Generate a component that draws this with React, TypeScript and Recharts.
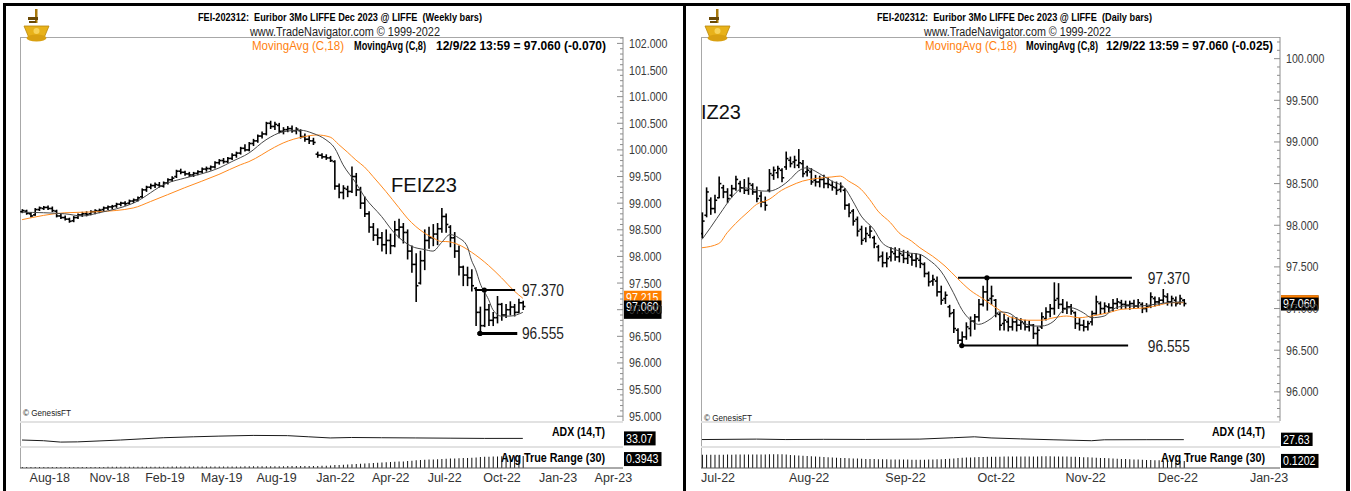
import React from 'react';
import { ComposedChart, Bar, Line, XAxis, YAxis, ReferenceLine, ReferenceDot } from 'recharts';

const FONT = "'Liberation Sans Narrow', 'Arial Narrow', 'Liberation Sans', Arial, sans-serif";
const ORANGE = '#ff8a1e';
const MA8_COLOR = '#484848';
const AXIS_W = 50;

// ---------- weekly (left) ----------
const W_OPEN = [
  98.84, 98.85, 98.80, 98.78, 98.88, 98.90, 98.92, 98.90, 98.85, 98.76,
  98.73, 98.70, 98.67, 98.73, 98.78, 98.80, 98.80, 98.84, 98.85, 98.88,
  98.91, 98.93, 98.95, 98.98, 99.00, 99.00, 99.04, 99.06, 99.12, 99.25,
  99.30, 99.33, 99.34, 99.32, 99.38, 99.44, 99.50, 99.60, 99.58, 99.55,
  99.53, 99.56, 99.59, 99.64, 99.65, 99.68, 99.76, 99.80, 99.78, 99.84,
  99.90, 99.94, 100.03, 100.00, 100.12, 100.17, 100.26, 100.30, 100.50, 100.44,
  100.46, 100.35, 100.38, 100.40, 100.36, 100.36, 100.25, 100.20, 100.17, 99.92,
  99.90, 99.87, 99.85, 99.78, 99.32, 99.20, 99.26, 99.22, 99.50, 99.25,
  99.00, 98.80, 98.55, 98.40, 98.35, 98.22, 98.30, 98.20, 98.50, 98.55,
  98.45, 98.10, 97.85, 97.50, 97.92, 98.30, 98.35, 98.42, 98.52, 98.75,
  98.55, 98.35, 98.10, 97.80, 97.65, 97.60, 97.40, 96.95, 96.70, 97.00,
  96.80, 96.85, 97.10, 96.90, 97.00, 97.05, 96.95, 97.13,
];
const W_HIGH = [
  98.88, 98.87, 98.82, 98.90, 98.93, 98.94, 98.95, 98.93, 98.87, 98.79,
  98.76, 98.72, 98.75, 98.80, 98.83, 98.84, 98.86, 98.88, 98.89, 98.93,
  98.95, 98.96, 99.00, 99.02, 99.03, 99.06, 99.08, 99.12, 99.27, 99.32,
  99.36, 99.38, 99.39, 99.40, 99.46, 99.50, 99.62, 99.64, 99.60, 99.58,
  99.58, 99.61, 99.66, 99.68, 99.70, 99.78, 99.82, 99.84, 99.86, 99.93,
  99.96, 100.05, 100.10, 100.14, 100.20, 100.28, 100.34, 100.52, 100.54, 100.52,
  100.50, 100.42, 100.44, 100.45, 100.42, 100.38, 100.30, 100.26, 100.22, 99.96,
  99.93, 99.91, 99.88, 99.80, 99.36, 99.33, 99.32, 99.68, 99.56, 99.30,
  99.12, 98.84, 98.62, 98.52, 98.45, 98.50, 98.42, 98.66, 98.70, 98.62,
  98.50, 98.20, 98.05, 98.10, 98.50, 98.55, 98.60, 98.62, 98.90, 98.80,
  98.58, 98.45, 98.20, 97.82, 97.80, 97.75, 97.42, 97.05, 97.37, 97.10,
  96.95, 97.25, 97.12, 97.10, 97.15, 97.10, 97.20, 97.16,
];
const W_LOW = [
  98.82, 98.79, 98.74, 98.77, 98.86, 98.88, 98.88, 98.84, 98.74, 98.71,
  98.68, 98.64, 98.65, 98.71, 98.75, 98.76, 98.78, 98.80, 98.82, 98.86,
  98.88, 98.89, 98.92, 98.95, 98.96, 98.98, 99.01, 99.04, 99.10, 99.22,
  99.27, 99.29, 99.30, 99.30, 99.36, 99.41, 99.48, 99.55, 99.52, 99.50,
  99.50, 99.53, 99.57, 99.60, 99.62, 99.66, 99.73, 99.75, 99.76, 99.82,
  99.86, 99.92, 99.98, 99.98, 100.08, 100.14, 100.22, 100.28, 100.40, 100.38,
  100.32, 100.30, 100.34, 100.33, 100.30, 100.22, 100.16, 100.12, 100.10, 99.86,
  99.84, 99.82, 99.78, 99.26, 99.10, 99.08, 99.12, 99.20, 99.14, 98.90,
  98.75, 98.45, 98.30, 98.22, 98.10, 98.05, 98.05, 98.18, 98.35, 98.25,
  97.95, 97.70, 97.15, 97.48, 97.75, 98.15, 98.20, 98.22, 98.45, 98.45,
  98.18, 97.98, 97.65, 97.45, 97.45, 97.35, 96.70, 96.555, 96.68, 96.70,
  96.70, 96.75, 96.80, 96.85, 96.90, 96.88, 96.94, 97.00,
];
const W_CLOSE = [
  98.86, 98.81, 98.76, 98.88, 98.91, 98.92, 98.90, 98.86, 98.76, 98.73,
  98.70, 98.66, 98.73, 98.78, 98.80, 98.79, 98.84, 98.86, 98.87, 98.91,
  98.93, 98.94, 98.98, 99.00, 98.99, 99.04, 99.06, 99.10, 99.25, 99.30,
  99.33, 99.35, 99.32, 99.38, 99.44, 99.47, 99.60, 99.58, 99.55, 99.53,
  99.56, 99.59, 99.64, 99.65, 99.68, 99.76, 99.80, 99.78, 99.84, 99.90,
  99.94, 100.03, 100.00, 100.12, 100.17, 100.26, 100.30, 100.50, 100.44, 100.48,
  100.35, 100.38, 100.40, 100.36, 100.39, 100.25, 100.20, 100.17, 100.14, 99.90,
  99.87, 99.85, 99.80, 99.32, 99.20, 99.28, 99.22, 99.50, 99.25, 99.00,
  98.80, 98.55, 98.40, 98.35, 98.22, 98.30, 98.20, 98.50, 98.55, 98.45,
  98.10, 97.85, 97.45, 97.92, 98.30, 98.35, 98.42, 98.52, 98.75, 98.60,
  98.35, 98.10, 97.80, 97.65, 97.60, 97.45, 96.95, 96.70, 97.00, 96.80,
  96.85, 97.10, 96.90, 97.00, 97.05, 96.95, 97.13, 97.06,
];
const W_ATR = [
  0.030, 0.030, 0.031, 0.031, 0.032, 0.032, 0.032, 0.033, 0.033, 0.034,
  0.034, 0.035, 0.035, 0.035, 0.036, 0.036, 0.036, 0.037, 0.037, 0.037,
  0.038, 0.038, 0.038, 0.039, 0.039, 0.040, 0.040, 0.041, 0.042, 0.043,
  0.043, 0.044, 0.044, 0.045, 0.045, 0.046, 0.047, 0.047, 0.047, 0.048,
  0.048, 0.048, 0.049, 0.049, 0.050, 0.050, 0.051, 0.051, 0.052, 0.052,
  0.053, 0.053, 0.054, 0.055, 0.055, 0.056, 0.057, 0.058, 0.060, 0.060,
  0.061, 0.061, 0.062, 0.062, 0.063, 0.063, 0.064, 0.064, 0.065,
  0.070, 0.074, 0.078, 0.082, 0.095, 0.102, 0.108, 0.112, 0.125, 0.132,
  0.140, 0.148, 0.158, 0.166, 0.172, 0.180, 0.188, 0.195, 0.205, 0.212,
  0.218, 0.228, 0.236, 0.255, 0.265, 0.272, 0.278, 0.284, 0.290, 0.298,
  0.304, 0.310, 0.316, 0.322, 0.328, 0.334, 0.340, 0.350, 0.362, 0.370,
  0.374, 0.378, 0.382, 0.384, 0.386, 0.388, 0.390, 0.392, 0.3943,
];
const W_MA18_AT = [0, 10, 18, 26, 30, 38, 46, 51, 53, 59, 61, 66, 69, 72, 74, 76, 78, 80, 82, 85, 88, 90, 94, 96, 98, 99, 102, 105, 109, 112, 115, 117];
const W_MA18 = [98.69, 98.82, 98.84, 98.91, 99.03, 99.29, 99.54, 99.72, 99.78, 100.05, 100.13, 100.25, 100.28, 100.24, 100.10, 99.96, 99.81, 99.68, 99.50, 99.22, 98.92, 98.72, 98.44, 98.35, 98.28, 98.28, 98.22, 98.08, 97.83, 97.60, 97.35, 97.215];
const W_MA8_AT = [0, 10, 14, 18, 26, 34, 38, 46, 49, 53, 57, 61, 65, 68, 71, 73, 75, 78, 80, 84, 87, 91, 94, 96, 98, 100, 102, 104, 105, 106, 107, 109, 110, 112, 114, 117];
const W_MA8 = [98.83, 98.80, 98.76, 98.82, 99.00, 99.38, 99.47, 99.66, 99.78, 99.94, 100.19, 100.34, 100.37, 100.31, 100.19, 100.04, 99.72, 99.38, 99.12, 98.75, 98.44, 98.19, 98.13, 98.10, 98.26, 98.41, 98.35, 98.19, 97.93, 97.75, 97.50, 97.19, 97.00, 96.88, 96.88, 96.95];
const W_ADX_AT = [0, 5, 9, 13, 18, 23, 28, 33, 40, 46, 54, 62, 67, 72, 77, 84, 92, 100, 108, 117];
const W_ADX = [26, 23, 17, 18, 22, 26, 31, 36, 40, 43, 46, 45, 40, 35, 37, 36, 35, 34, 33, 33.07];
const W_XTICKS = [2, 16, 29, 42, 55, 69, 82, 95, 108, 121, 134];
const W_XLABELS = ['Aug-18', 'Nov-18', 'Feb-19', 'May-19', 'Aug-19', 'Jan-22', 'Apr-22', 'Jul-22', 'Oct-22', 'Jan-23', 'Apr-23'];
const W_MAJORS = [95, 95.5, 96, 96.5, 97, 97.5, 98, 98.5, 99, 99.5, 100, 100.5, 101, 101.5, 102];
const W_LEVELS = [97.37, 96.555];
const W_LEVEL_FROM = [105.8, 106.4];
const W_LEVEL_TO = [115.2, 115.7];
const W_LEVEL_DOT = [108, 107];

// ---------- daily (right) ----------
const D_OPEN = [
  97.90, 98.12, 98.30, 98.20, 98.33, 98.45, 98.40, 98.36, 98.44, 98.50,
  98.45, 98.42, 98.48, 98.40, 98.35, 98.28, 98.42, 98.60, 98.63, 98.66,
  98.70, 98.78, 98.76, 98.72, 98.74, 98.64, 98.64, 98.54, 98.52, 98.55,
  98.50, 98.48, 98.45, 98.43, 98.42, 98.24, 98.17, 98.07, 97.95, 97.84,
  97.88, 97.85, 97.74, 97.63, 97.55, 97.62, 97.66, 97.62, 97.64, 97.60,
  97.62, 97.58, 97.58, 97.53, 97.42, 97.33, 97.33, 97.20, 97.12, 97.02,
  96.95, 96.74, 96.62, 96.66, 96.76, 96.85, 96.90, 97.05, 97.20, 97.12,
  97.10, 96.93, 96.82, 96.84, 96.78, 96.84, 96.80, 96.82, 96.78, 96.80,
  96.70, 96.78, 96.88, 96.96, 97.00, 97.12, 97.05, 97.00, 97.02, 96.95,
  96.82, 96.80, 96.78, 96.84, 96.94, 97.06, 97.00, 97.02, 97.01, 97.06,
  97.07, 97.05, 97.04, 97.06, 97.03, 97.05, 97.00, 97.03, 97.12, 97.08,
  97.10, 97.14, 97.08, 97.10, 97.07, 97.10,
];
const D_HIGH = [
  98.15, 98.45, 98.33, 98.36, 98.58, 98.48, 98.44, 98.48, 98.59, 98.53,
  98.55, 98.57, 98.50, 98.46, 98.40, 98.34, 98.67, 98.70, 98.71, 98.68,
  98.88, 98.82, 98.83, 98.91, 98.78, 98.71, 98.68, 98.60, 98.59, 98.60,
  98.57, 98.53, 98.52, 98.51, 98.44, 98.26, 98.19, 98.10, 97.99, 97.97,
  97.99, 97.87, 97.76, 97.68, 97.67, 97.73, 97.73, 97.72, 97.70, 97.69,
  97.66, 97.66, 97.65, 97.55, 97.44, 97.40, 97.38, 97.27, 97.20, 97.04,
  96.99, 96.76, 96.72, 96.83, 96.90, 96.93, 97.11, 97.27, 97.37, 97.27,
  97.11, 96.95, 96.93, 96.89, 96.90, 96.89, 96.88, 96.86, 96.85, 96.81,
  96.78, 96.95, 97.01, 97.05, 97.31, 97.30, 97.11, 97.08, 97.05, 96.96,
  96.88, 96.86, 96.85, 96.97, 97.15, 97.08, 97.07, 97.06, 97.11, 97.12,
  97.10, 97.09, 97.09, 97.10, 97.11, 97.07, 97.06, 97.19, 97.14, 97.13,
  97.23, 97.18, 97.15, 97.14, 97.16, 97.11,
];
const D_LOW = [
  97.85, 98.10, 98.13, 98.15, 98.33, 98.33, 98.27, 98.34, 98.42, 98.40,
  98.38, 98.37, 98.37, 98.28, 98.22, 98.18, 98.40, 98.55, 98.57, 98.52,
  98.67, 98.70, 98.69, 98.69, 98.58, 98.59, 98.49, 98.47, 98.46, 98.45,
  98.45, 98.42, 98.37, 98.40, 98.19, 98.10, 98.00, 97.87, 97.77, 97.80,
  97.85, 97.73, 97.57, 97.50, 97.50, 97.57, 97.58, 97.56, 97.55, 97.54,
  97.52, 97.50, 97.49, 97.38, 97.27, 97.28, 97.15, 97.05, 97.06, 96.90,
  96.71, 96.58, 96.555, 96.63, 96.67, 96.75, 96.85, 97.03, 96.98, 97.05,
  96.90, 96.74, 96.74, 96.73, 96.74, 96.73, 96.75, 96.74, 96.73, 96.64,
  96.555, 96.76, 96.86, 96.90, 96.93, 97.00, 96.95, 96.94, 96.93, 96.76,
  96.74, 96.73, 96.74, 96.80, 96.93, 96.93, 96.94, 96.96, 96.97, 97.00,
  97.00, 97.00, 96.99, 97.00, 97.01, 96.95, 96.96, 97.01, 97.03, 97.04,
  97.07, 97.04, 97.03, 97.03, 97.05, 97.03,
];
const D_CLOSE = [
  98.05, 98.40, 98.20, 98.30, 98.50, 98.40, 98.32, 98.44, 98.55, 98.45,
  98.42, 98.50, 98.40, 98.32, 98.28, 98.24, 98.62, 98.66, 98.68, 98.57,
  98.80, 98.74, 98.78, 98.75, 98.62, 98.66, 98.52, 98.52, 98.55, 98.50,
  98.49, 98.46, 98.42, 98.46, 98.24, 98.15, 98.05, 97.93, 97.82, 97.90,
  97.93, 97.78, 97.62, 97.55, 97.60, 97.68, 97.62, 97.66, 97.60, 97.64,
  97.58, 97.60, 97.54, 97.42, 97.32, 97.35, 97.20, 97.10, 97.16, 96.94,
  96.76, 96.62, 96.66, 96.78, 96.85, 96.90, 97.05, 97.20, 97.10, 97.15,
  96.94, 96.80, 96.86, 96.78, 96.84, 96.80, 96.84, 96.78, 96.80, 96.70,
  96.74, 96.90, 96.96, 97.00, 97.10, 97.05, 97.00, 97.02, 96.97, 96.82,
  96.80, 96.78, 96.82, 96.94, 97.08, 97.00, 97.03, 97.01, 97.06, 97.08,
  97.05, 97.04, 97.06, 97.03, 97.07, 97.00, 97.02, 97.14, 97.08, 97.10,
  97.15, 97.08, 97.12, 97.06, 97.12, 97.06,
];
const D_ATR = [
  0.225, 0.226, 0.226, 0.225, 0.227, 0.227, 0.228, 0.227, 0.228, 0.228,
  0.229, 0.229, 0.230, 0.230, 0.229, 0.230, 0.232, 0.232, 0.233, 0.232, 0.231,
  0.222, 0.218, 0.214, 0.210, 0.206, 0.200, 0.195, 0.190, 0.186, 0.182,
  0.178, 0.175, 0.171, 0.168, 0.165, 0.162, 0.160, 0.157, 0.155, 0.153, 0.152, 0.150, 0.149,
  0.148, 0.146, 0.145, 0.144, 0.143, 0.143, 0.142, 0.142, 0.141, 0.142, 0.143, 0.145, 0.147, 0.150, 0.153, 0.157,
  0.162, 0.168, 0.173, 0.177, 0.180, 0.183, 0.186, 0.188, 0.190, 0.192,
  0.193, 0.193, 0.194, 0.194, 0.195, 0.195, 0.196, 0.196, 0.197, 0.197,
  0.197, 0.198, 0.198, 0.198, 0.197, 0.196, 0.195, 0.194, 0.192, 0.190,
  0.187, 0.184, 0.181, 0.178, 0.175, 0.172, 0.168, 0.165, 0.162, 0.158,
  0.155, 0.152, 0.149, 0.146, 0.143, 0.140,
  0.137, 0.135, 0.132, 0.130, 0.128, 0.126, 0.125, 0.123, 0.122, 0.1202,
];
const D_MA18_AT = [0, 4, 6, 8, 11, 13, 16, 19, 21, 24, 27, 31, 33, 35, 38, 40, 42, 45, 47, 50, 52, 55, 58, 61, 64, 67, 71, 74, 78, 81, 84, 87, 90, 93, 97, 100, 103, 106, 109, 112, 115];
const D_MA18 = [97.73, 97.78, 97.91, 98.02, 98.16, 98.25, 98.31, 98.42, 98.47, 98.53, 98.56, 98.58, 98.59, 98.53, 98.43, 98.31, 98.17, 98.03, 97.91, 97.81, 97.73, 97.63, 97.51, 97.36, 97.22, 97.12, 96.98, 96.89, 96.86, 96.86, 96.89, 96.91, 96.89, 96.91, 96.95, 96.99, 97.00, 97.01, 97.04, 97.07, 97.07];
const D_MA8_AT = [0, 2, 5, 7, 10, 12, 15, 16, 19, 21, 23, 25, 27, 29, 31, 34, 36, 38, 41, 43, 46, 49, 52, 54, 57, 60, 62, 65, 66, 69, 71, 73, 76, 79, 81, 84, 86, 88, 91, 93, 96, 98, 101, 104, 108, 111, 115];
const D_MA8 = [97.83, 97.97, 98.19, 98.33, 98.45, 98.43, 98.41, 98.41, 98.47, 98.55, 98.65, 98.69, 98.65, 98.59, 98.53, 98.45, 98.29, 98.11, 97.95, 97.79, 97.71, 97.67, 97.65, 97.59, 97.45, 97.19, 96.99, 96.83, 96.81, 96.88, 96.96, 96.95, 96.85, 96.79, 96.79, 96.85, 96.97, 97.01, 96.95, 96.89, 96.91, 96.99, 97.03, 97.03, 97.05, 97.07, 97.08];
const D_ADX_AT = [0, 13, 20, 29, 39, 52, 60, 65, 69, 76, 84, 93, 96, 106, 115];
const D_ADX = [28, 30, 28, 29, 28.5, 30, 36, 40, 35, 31, 27, 23, 27, 27.5, 27.63];
const D_XTICKS = [0, 21, 44, 66, 87, 109, 131];
const D_XLABELS = ['Jul-22', 'Aug-22', 'Sep-22', 'Oct-22', 'Nov-22', 'Dec-22', 'Jan-23'];
const D_MAJORS = [96, 96.5, 97, 97.5, 98, 98.5, 99, 99.5, 100];
const D_LEVELS = [97.37, 96.555];
const D_LEVEL_FROM = [61.1, 61.6];
const D_LEVEL_TO = [102.6, 101.7];
const D_LEVEL_DOT = [68, 62];

// ---------- helpers ----------
const toRows = (o: number[], h: number[], l: number[], c: number[], atr: number[]) =>
  c.map((close, i) => ({ i, range: [l[i], h[i]], open: o[i], close, atr: atr[i] }));
const toPts = (at: number[], v: number[]) => at.map((i, k) => ({ i, v: v[k] }));
const last = (a: number[]) => a[a.length - 1];
const numW = (s: string) => (s.length - 1) * 5.9 + 3;

const minorTicks = (lo: number, hi: number) => {
  const out: number[] = [];
  for (let k = Math.ceil(lo * 10); k <= Math.floor(hi * 10); k++) out.push(k / 10);
  return out;
};

const OhlcShape = (props: any) => {
  const { x, y, width, height, payload } = props;
  if (x == null || !payload) return null;
  const top = Math.min(y, y + height);
  const bot = Math.max(y, y + height);
  const [lo, hi] = payload.range;
  const py = (v: number) => (hi === lo ? top : top + ((hi - v) / (hi - lo)) * (bot - top));
  const cx = x + width / 2;
  return (
    <g stroke="#000" strokeWidth={1.6}>
      <line x1={cx} x2={cx} y1={top - 0.4} y2={bot + 0.4} />
      <line x1={cx - 2.2} x2={cx} y1={py(payload.open)} y2={py(payload.open)} />
      <line x1={cx} x2={cx + 2.2} y1={py(payload.close)} y2={py(payload.close)} />
    </g>
  );
};

const PriceTick = (props: any) => {
  const { x, y, payload, majors } = props;
  const v = payload.value;
  const major = majors.some((m: number) => Math.abs(m - v) < 1e-6);
  const label = v.toFixed(3);
  return (
    <g>
      <line x1={x - (major ? 6 : 3)} x2={x} y1={y} y2={y} stroke="#8c8c8c" />
      {major && (
        <text x={x + 6} y={y + 4.5} fontSize={12.5} fill="#3a3a3a" fontFamily={FONT}
          textLength={numW(label)} lengthAdjust="spacingAndGlyphs">{label}</text>
      )}
    </g>
  );
};

// value flag on the axis; text is optional (the MA8 flag is hidden behind the others)
const ValueBox = ({ cx, cy, text, fill, dy = 0, h = 13, showText = true }: any) => {
  const w = numW(text);
  return (
    <g>
      <rect x={cx + 1} y={cy - h / 2 + dy} width={w + 5} height={h} fill={fill} />
      {showText && (
        <text x={cx + 3} y={cy + 4.4 + dy} fontSize={12.5} fill="#fff" fontFamily={FONT}
          textLength={w} lengthAdjust="spacingAndGlyphs">{text}</text>
      )}
    </g>
  );
};

type PanelProps = {
  left: number; plotW: number; xDomain: [number, number]; yDomain: [number, number];
  majors: number[]; rows: any[]; ma18: any[]; ma8: any[]; adx: any[];
  atrMax: number; atrDy: number; xTicks: number[]; xLabels: string[];
  levels: number[]; levelFrom: number[]; levelTo: number[]; levelDot: number[]; levelThick: number[]; labelAt: number;
  closeLast: number; ma18Last: number; ma8Last: number; adxLast: number; atrLast: number;
};

function Panel(p: PanelProps) {
  const W = p.plotW + AXIS_W;
  const minors = minorTicks(p.yDomain[0], p.yDomain[1]);
  const xEnd = p.xDomain[1];
  return (
    <>
      <div style={{ position: 'absolute', left: p.left, top: 37 }}>
        <ComposedChart width={W} height={392} data={p.rows} margin={{ top: 0, right: 0, bottom: 8, left: 0 }}>
          <XAxis dataKey="i" type="number" domain={p.xDomain} allowDataOverflow hide />
          <YAxis orientation="right" width={AXIS_W} domain={p.yDomain} allowDataOverflow ticks={minors}
            interval={0} tickLine={false} tickSize={0} tickMargin={0} axisLine={{ stroke: '#8c8c8c' }}
            tick={(t: any) => <PriceTick {...t} majors={p.majors} />} />
          <Bar dataKey="range" barSize={1} shape={(s: any) => <OhlcShape {...s} />} isAnimationActive={false} />
          <Line data={p.ma18} dataKey="v" type="monotone" stroke={ORANGE} strokeWidth={1} dot={false} isAnimationActive={false} />
          <Line data={p.ma8} dataKey="v" type="monotone" stroke={MA8_COLOR} strokeWidth={1} dot={false} isAnimationActive={false} />
          {p.levels.map((v, k) => (
            <ReferenceLine key={'l' + k} segment={[{ x: p.levelFrom[k], y: v }, { x: p.levelTo[k], y: v }]}
              stroke="#000" strokeWidth={p.levelThick[k]} ifOverflow="visible" />
          ))}
          {p.levels.map((v, k) => (
            <ReferenceDot key={'d' + k} x={p.levelDot[k]} y={v} r={2.6} fill="#000" stroke="none" ifOverflow="visible" />
          ))}
          {p.levels.map((v, k) => (
            <ReferenceDot key={'t' + k} x={p.labelAt} y={v} r={0} ifOverflow="visible"
              shape={(s: any) => (
                <text x={s.cx} y={s.cy + 6} fontSize={17} fill="#1e1e1e" fontFamily={FONT}
                  textLength={42} lengthAdjust="spacingAndGlyphs">{v.toFixed(3)}</text>
              )} />
          ))}
          <ReferenceDot x={xEnd} y={p.ma8Last} r={0} ifOverflow="visible"
            shape={(s: any) => <ValueBox cx={s.cx} cy={s.cy} text={p.ma8Last.toFixed(3)} fill="#000" showText={false} />} />
          <ReferenceDot x={xEnd} y={p.ma18Last} r={0} ifOverflow="visible"
            shape={(s: any) => <ValueBox cx={s.cx} cy={s.cy} h={14} dy={-0.5} text={p.ma18Last.toFixed(3)} fill="#ff8000" />} />
          <ReferenceDot x={xEnd} y={p.closeLast} r={0} ifOverflow="visible"
            shape={(s: any) => <ValueBox cx={s.cx} cy={s.cy} dy={0.5} text={p.closeLast.toFixed(3)} fill="#000" />} />
        </ComposedChart>
      </div>
      <div style={{ position: 'absolute', left: p.left, top: 423 }}>
        <ComposedChart width={W} height={23} data={p.rows} margin={{ top: 0, right: AXIS_W, bottom: 0, left: 0 }}>
          <XAxis dataKey="i" type="number" domain={p.xDomain} allowDataOverflow hide />
          <YAxis hide domain={[0, 100]} allowDataOverflow />
          <Line data={p.adx} dataKey="v" type="linear" stroke="#1a1a1a" strokeWidth={1} dot={false} isAnimationActive={false} />
          <ReferenceDot x={xEnd} y={p.adxLast} r={0} ifOverflow="visible"
            shape={(s: any) => <ValueBox cx={s.cx} cy={s.cy} h={14} text={p.adxLast.toFixed(2)} fill="#000" />} />
        </ComposedChart>
      </div>
      <div style={{ position: 'absolute', left: p.left, top: 448 }}>
        <ComposedChart width={W} height={40} data={p.rows} margin={{ top: 0, right: AXIS_W, bottom: 0, left: 0 }}>
          <XAxis dataKey="i" type="number" domain={p.xDomain} allowDataOverflow ticks={p.xTicks} interval={0}
            tickLine={false} tickSize={0} tickMargin={0} height={20} axisLine={{ stroke: '#555' }}
            tick={(t: any) => (
              <text x={t.x - 1} y={t.y + 14} fontSize={12.5} fill="#333" fontFamily={FONT}>
                {p.xLabels[p.xTicks.indexOf(t.payload.value)]}
              </text>
            )} />
          <YAxis hide domain={[0, p.atrMax]} allowDataOverflow />
          <Bar dataKey="atr" barSize={1} fill="#111" isAnimationActive={false} />
          <ReferenceDot x={xEnd} y={p.atrLast} r={0} ifOverflow="visible"
            shape={(s: any) => <ValueBox cx={s.cx} cy={s.cy} h={14} dy={p.atrDy} text={p.atrLast.toFixed(4)} fill="#000" />} />
        </ComposedChart>
      </div>
    </>
  );
}

const T = ({ x, y, w, size, bold, fill = '#000', anchor = 'start', font = FONT, children }: any) => (
  <text x={x} y={y} fontSize={size} fontWeight={bold ? 700 : 400} fill={fill} textAnchor={anchor}
    fontFamily={font} textLength={w} lengthAdjust="spacingAndGlyphs" style={{ whiteSpace: 'pre' }}>{children}</text>
);

const Logo = ({ x, y }: { x: number; y: number }) => (
  <g transform={`translate(${x},${y})`}>
    <rect x={13} y={0} width={2.5} height={14} fill="#a8780a" />
    <rect x={6} y={8} width={10} height={3} fill="#6b4a06" />
    <rect x={7} y={12} width={7} height={2} fill="#6b4a06" />
    <path d="M2 17 L27 17 L22 29 L7 29 Z" fill="#e8b21a" stroke="#b8860b" strokeWidth={0.8} />
    <ellipse cx={14.5} cy={29} rx={10} ry={3.5} fill="#d9a011" />
    <circle cx={14.5} cy={22} r={3} fill="#f7d35a" />
  </g>
);

type Frame = {
  x0: number; x1: number; title: string; titleX: number; titleW: number; urlX: number; urlW: number;
  ma18X: number; ma8X: number; dateX: number; dateW: number; date: string;
  big: string; bigX: number; bigY: number; bigW: number; gfY: number; labelEnd: number;
};

const PanelFrame = ({ f }: { f: Frame }) => (
  <g>
    <line x1={f.x0} x2={f.x1} y1={37.5} y2={37.5} stroke="#a8a8a8" />
    <line x1={f.x0 + 0.5} x2={f.x0 + 0.5} y1={37} y2={468} stroke="#a8a8a8" />
    <rect x={f.x0} y={421} width={f.x1 - f.x0} height={2} fill="#e2e2e2" />
    <rect x={f.x0} y={446} width={f.x1 - f.x0} height={2} fill="#e2e2e2" />
    <Logo x={f.x0 + 2} y={9} />
    <T x={f.titleX} y={20.5} w={f.titleW} size={10.5} bold>{f.title}</T>
    <T x={f.urlX} y={35.5} w={f.urlW} size={12.5} fill="#222">www.TradeNavigator.com © 1999-2022</T>
    <T x={f.ma18X} y={49.5} w={92} size={12.5} fill="#ff7f0e">MovingAvg (C,18)</T>
    <T x={f.ma8X} y={49.5} w={72} size={12.5} bold>MovingAvg (C,8)</T>
    <T x={f.dateX} y={49.5} w={f.dateW} size={12.5} bold>{f.date}</T>
    <T x={f.bigX} y={f.bigY} w={f.bigW} size={20} fill="#111" font="'Liberation Sans', Arial, sans-serif">{f.big}</T>
    <T x={f.x0 + 3} y={f.gfY} w={48} size={8.5} fill="#222">© GenesisFT</T>
    <T x={f.labelEnd} y={436} w={53} size={12.5} bold anchor="end">ADX (14,T)</T>
    <T x={f.labelEnd} y={462} w={104} size={12.5} bold anchor="end">Avg True Range (30)</T>
  </g>
);

const LEFT_FRAME: Frame = {
  x0: 20, x1: 623, title: 'FEI-202312:  Euribor 3Mo LIFFE Dec 2023 @ LIFFE  (Weekly bars)', titleX: 198, titleW: 284,
  urlX: 250, urlW: 190, ma18X: 252, ma8X: 354, dateX: 436, dateW: 170, date: '12/9/22 13:59 = 97.060 (-0.070)',
  big: 'FEIZ23', bigX: 391, bigY: 192, bigW: 66, gfY: 416, labelEnd: 605,
};
const RIGHT_FRAME: Frame = {
  x0: 701, x1: 1280, title: 'FEI-202312:  Euribor 3Mo LIFFE Dec 2023 @ LIFFE  (Daily bars)', titleX: 877, titleW: 275,
  urlX: 924, urlW: 187, ma18X: 925, ma8X: 1026, dateX: 1106, dateW: 167, date: '12/9/22 13:59 = 97.060 (-0.025)',
  big: 'IZ23', bigX: 701, bigY: 119, bigW: 40, gfY: 421, labelEnd: 1265,
};

const LEFT: PanelProps = {
  left: 20, plotW: 603, xDomain: [-0.47, 140.4], yDomain: [94.91, 102.12], majors: W_MAJORS,
  rows: toRows(W_OPEN, W_HIGH, W_LOW, W_CLOSE, W_ATR), ma18: toPts(W_MA18_AT, W_MA18), ma8: toPts(W_MA8_AT, W_MA8),
  adx: toPts(W_ADX_AT, W_ADX), atrMax: 0.66, atrDy: 3, xTicks: W_XTICKS, xLabels: W_XLABELS,
  levels: W_LEVELS, levelFrom: W_LEVEL_FROM, levelTo: W_LEVEL_TO, levelDot: W_LEVEL_DOT, levelThick: [2, 3], labelAt: 116.8,
  closeLast: last(W_CLOSE), ma18Last: last(W_MA18), ma8Last: last(W_MA8), adxLast: last(W_ADX), atrLast: last(W_ATR),
};
const RIGHT: PanelProps = {
  left: 701, plotW: 579, xDomain: [-0.24, 137.95], yDomain: [95.65, 100.26], majors: D_MAJORS,
  rows: toRows(D_OPEN, D_HIGH, D_LOW, D_CLOSE, D_ATR), ma18: toPts(D_MA18_AT, D_MA18), ma8: toPts(D_MA8_AT, D_MA8),
  adx: toPts(D_ADX_AT, D_ADX), atrMax: 0.34, atrDy: 0, xTicks: D_XTICKS, xLabels: D_XLABELS,
  levels: D_LEVELS, levelFrom: D_LEVEL_FROM, levelTo: D_LEVEL_TO, levelDot: D_LEVEL_DOT, levelThick: [2, 2], labelAt: 106.4,
  closeLast: last(D_CLOSE), ma18Last: last(D_MA18), ma8Last: last(D_MA8), adxLast: last(D_ADX), atrLast: last(D_ATR),
};

export default function App() {
  return (
    <div style={{ position: 'absolute', left: 0, top: 0, width: 1351, height: 491, background: '#fff', overflow: 'hidden' }}>
      <svg width={1351} height={491} style={{ position: 'absolute', left: 0, top: 0 }}>
        <rect x={3} y={3} width={1347} height={3} fill="#000" />
        <rect x={3} y={3} width={3} height={488} fill="#000" />
        <rect x={683} y={3} width={3} height={488} fill="#000" />
        <rect x={1346} y={3} width={4} height={488} fill="#000" />
        <PanelFrame f={LEFT_FRAME} />
        <PanelFrame f={RIGHT_FRAME} />
      </svg>
      <Panel {...LEFT} />
      <Panel {...RIGHT} />
    </div>
  );
}
